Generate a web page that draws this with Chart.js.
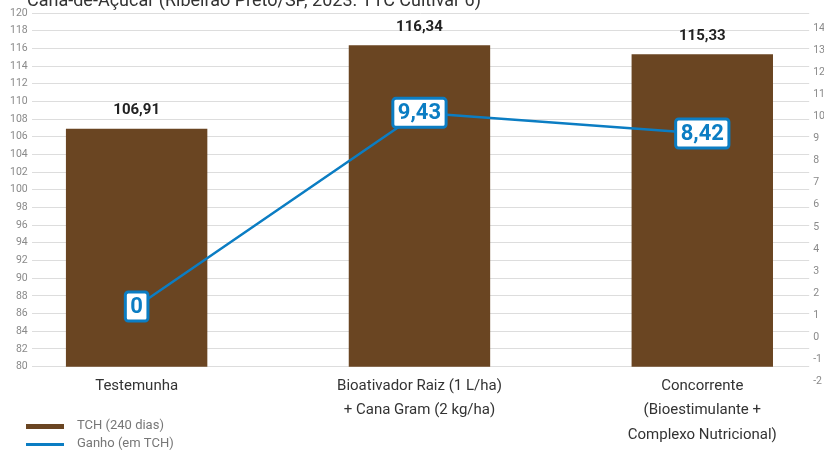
<!DOCTYPE html>
<html>
<head>
<meta charset="utf-8">
<script src="https://cdn.jsdelivr.net/npm/chart.js@4"></script>
<style>
  body { margin: 0; background: #fff; }
  #wrap { width: 824px; height: 454px; }
</style>
</head>
<body>
<div id="wrap"><canvas id="grafico" width="824" height="454"></canvas></div>
<script>
const tituloTexto = 'Cana-de-Açúcar (Ribeirão Preto/SP, 2023. TTC Cultivar 6)'
const tratamentos = [
    ['Testemunha'],
    ['Bioativador Raiz (1 L/ha)', '+ Cana Gram (2 kg/ha)'],
    ['Concorrente', '(Bioestimulante +', 'Complexo Nutricional)']
]
const tch = [106.91, 116.34, 115.33]
const ganho = [0, 9.43, 8.42]

const marrom = '#6a4522'
const azul = '#0b7dc3'

function virgula(v) {
    return String(v).replace('.', ',')
}

// titulo cortado no topo
const tituloPlugin = {
    id: 'tituloCortado',
    afterDraw(chart) {
        const c = chart.ctx
        c.save()
        c.font = '18px Roboto'
        c.fillStyle = '#333'
        c.textBaseline = 'alphabetic'
        c.fillText(tituloTexto, 27, 6)
        c.restore()
    }
}

const rotulosPlugin = {
    id: 'rotulos',
    afterDatasetsDraw(chart) {
        const c = chart.ctx
        c.save()
        // valores das barras
        const barras = chart.getDatasetMeta(0)
        c.font = 'bold 15px Roboto'
        c.fillStyle = '#222'
        c.textAlign = 'center'
        c.textBaseline = 'middle'
        barras.data.forEach((el, i) => {
            c.fillText(virgula(chart.data.datasets[0].data[i]), el.x, el.y - 18)
        })
        // caixas do ganho
        const linha = chart.getDatasetMeta(1)
        c.font = 'bold 22px Roboto'
        linha.data.forEach((el, i) => {
            const txt = virgula(chart.data.datasets[1].data[i])
            const w = c.measureText(txt).width + 10
            const h = 29
            c.beginPath()
            c.roundRect(el.x - w / 2, el.y - h / 2, w, h, 3)
            c.fillStyle = '#fff'
            c.fill()
            c.lineWidth = 3
            c.strokeStyle = azul
            c.stroke()
            c.fillStyle = azul
            c.fillText(txt, el.x, el.y + 1)
        })
        c.restore()
    }
}

const legendaPlugin = {
    id: 'legendaVertical',
    afterDraw(chart) {
        const c = chart.ctx
        const ds = chart.data.datasets
        c.save()
        c.font = '13px Roboto'
        c.textBaseline = 'middle'
        c.fillStyle = ds[0].backgroundColor
        c.fillRect(26, 424, 38, 5)
        c.fillStyle = '#777'
        c.fillText(ds[0].label, 77, 426)
        c.fillStyle = ds[1].borderColor
        c.fillRect(26, 443, 38, 3)
        c.fillStyle = '#777'
        c.fillText(ds[1].label, 77, 444)
        c.restore()
    }
}

var ctx = document.getElementById('grafico').getContext('2d')
var myChart = new Chart(ctx, {
    data: {
        labels: tratamentos,
        datasets: [{
            type: 'bar',
            label: 'TCH (240 dias)',
            data: tch,
            backgroundColor: marrom,
            barPercentage: 0.5,
            categoryPercentage: 1,
            yAxisID: 'y',
            order: 1
        }, {
            type: 'line',
            label: 'Ganho (em TCH)',
            data: ganho,
            borderColor: azul,
            borderWidth: 2.5,
            pointRadius: 0,
            tension: 0,
            yAxisID: 'yGanho',
            order: 0
        }]
    },
    options: {
        responsive: false,
        animation: false,
        layout: {
            padding: {top: 13, left: 6, right: -5, bottom: 0}
        },
        plugins: {
            legend: {display: false},
            tooltip: {enabled: false}
        },
        scales: {
            x: {
                grid: {display: false, drawTicks: false},
                border: {display: false},
                ticks: {
                    color: '#333',
                    font: {family: 'Roboto', size: 15, lineHeight: 1.63},
                    padding: 7,
                    maxRotation: 0,
                    autoSkip: false
                },
                // as colunas ocupam mais largura que a grade
                afterBuildTicks(scale) {
                    scale._startValue = -0.371
                    scale._valueRange = 2.749
                }
            },
            y: {
                position: 'left',
                min: 80,
                max: 120,
                ticks: {
                    stepSize: 2,
                    color: '#8a8a8a',
                    font: {family: 'Roboto', size: 10.5},
                    padding: 4
                },
                grid: {color: '#dddddd', drawTicks: false},
                border: {display: false}
            },
            yDireita: {
                position: 'right',
                min: -2,
                max: 14,
                ticks: {
                    stepSize: 1,
                    color: '#8a8a8a',
                    font: {family: 'Roboto', size: 10.5},
                    padding: 4,
                    labelOffset: 15
                },
                grid: {display: false, drawTicks: false},
                border: {display: false}
            },
            yGanho: {
                display: false,
                position: 'right',
                min: -2.93,
                max: 14.29
            }
        }
    },
    plugins: [tituloPlugin, rotulosPlugin, legendaPlugin]
})
</script>
</body>
</html>
